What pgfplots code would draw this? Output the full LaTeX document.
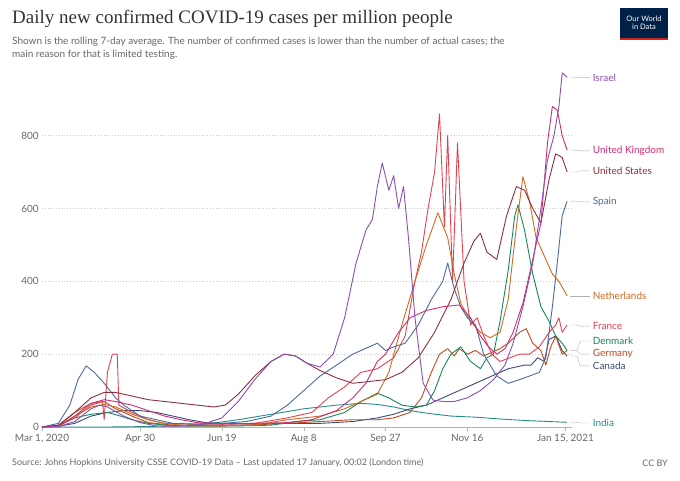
\documentclass[border=0pt]{standalone}
\usepackage{pgfplots}
\pgfplotsset{compat=1.18}
\usepackage{fontspec}
\setmainfont{Lato}
\newfontfamily\titlefont{Liberation Serif}
\definecolor{cIsr}{HTML}{8A4FB0}
\definecolor{cUK}{HTML}{D02C72}
\definecolor{cUS}{HTML}{8B2F3C}
\definecolor{cSpa}{HTML}{4C6A9C}
\definecolor{cNet}{HTML}{CC6A21}
\definecolor{cFra}{HTML}{E2424F}
\definecolor{cDen}{HTML}{18875A}
\definecolor{cGer}{HTML}{C24A1E}
\definecolor{cCan}{HTML}{3B4A75}
\definecolor{cInd}{HTML}{2A8C88}
\definecolor{tgray}{HTML}{666666}
\definecolor{owidblue}{HTML}{002147}
\definecolor{owidred}{HTML}{CE261E}
\begin{document}
\begin{tikzpicture}
\path (0pt,0pt) rectangle (680pt,-480pt);
\node[anchor=north west,inner sep=0,font=\titlefont\fontsize{19}{21}\selectfont,text=black!80] at (12pt,-10pt) {Daily new confirmed COVID-19 cases per million people};
\node[anchor=north west,inner sep=0,font=\fontsize{10}{12.5}\selectfont,text=tgray,align=left] at (12pt,-37pt) {Shown is the rolling 7-day average. The number of confirmed cases is lower than the number of actual cases; the\\main reason for that is limited testing.};
\fill[owidblue] (620pt,-8pt) rectangle (668pt,-40pt);
\fill[owidred] (620pt,-38pt) rectangle (668pt,-40pt);
\node[align=center,text=white,font=\fontsize{7.5}{8}\selectfont,inner sep=0] at (644pt,-23pt) {Our World\\in Data};
\node[anchor=west,inner sep=0,font=\fontsize{9}{11}\selectfont,text=tgray] at (12pt,-463pt) {Source: Johns Hopkins University CSSE COVID-19 Data -- Last updated 17 January, 00:02 (London time)};
\node[anchor=east,inner sep=0,font=\fontsize{9}{11}\selectfont,text=tgray] at (668pt,-463pt) {CC BY};
\foreach \v in {200,400,600,800} {\draw[gray!40,dotted,thick] (42pt,{-427pt+\v*0.364286pt})--(572pt,{-427pt+\v*0.364286pt});}
\draw[gray!60] (42pt,-427pt)--(572pt,-427pt);
\foreach \v in {0,200,400,600,800} {\node[anchor=east,inner sep=1pt,text=tgray,font=\fontsize{10}{12}\selectfont] at (40pt,{-427pt+\v*0.364286pt}) {\v};}
\foreach \d/\l in {0/{Mar 1, 2020},60/{Apr 30},110/{Jun 19},160/{Aug 8},210/{Sep 27},260/{Nov 16},320/{Jan 15, 2021}} {
 \draw[gray!60] ({42pt+\d*1.6358pt},-427pt)--++(0pt,-4pt);
 \node[anchor=north,text=tgray,font=\fontsize{10}{12}\selectfont] at ({42pt+\d*1.6358pt},-431pt) {\l};}
\foreach \c/\y/\n/\ly in {cIsr/960/Israel/959,cUK/760/United Kingdom/758,cUS/700/United States/703,cSpa/620/Spain/618,cNet/360/Netherlands/360,cFra/280/France/277,cDen/210/Denmark/236,cGer/210/Germany/200,cCan/195/Canada/168,cInd/13/India/11} {
 \draw[gray!60,thin] ({42pt+323*1.6358pt},{-427pt+\y*0.364286pt})--({42pt+327*1.6358pt},{-427pt+\y*0.364286pt})--({42pt+329*1.6358pt},{-427pt+\ly*0.364286pt})--({42pt+335*1.6358pt},{-427pt+\ly*0.364286pt});
 \node[anchor=west,inner sep=1pt,text=\c,font=\fontsize{10}{12}\selectfont] at ({42pt+336*1.6358pt},{-427pt+\ly*0.364286pt}) {\n};}
\begin{axis}[at={(42pt,-427pt)},anchor=south west,scale only axis,width=530pt,height=357pt,
 xmin=0,xmax=324,ymin=0,ymax=980,clip=false,
 axis lines=none,
 xtick=\empty,ytick=\empty,
 every axis plot/.append style={line width=0.9pt,line join=round},
]
\addplot[cInd] coordinates {(0,0)(40,0)(60,1)(80,3)(100,8)(120,20)(140,35)(160,50)(180,60)(195,65)(205,62)(215,55)(225,45)(235,38)(250,30)(265,27)(280,22)(295,18)(310,15)(321,13)};
\addplot[cCan] coordinates {(0,0)(10,2)(20,10)(30,30)(40,40)(50,45)(60,45)(70,40)(80,30)(90,20)(100,12)(110,10)(130,8)(150,10)(170,10)(190,15)(205,25)(215,35)(225,50)(235,60)(245,80)(255,100)(265,120)(275,140)(285,160)(295,170)(299,170)(303,190)(307,180)(310,240)(314,250)(318,210)(321,195)};
\addplot[cGer] coordinates {(0,0)(10,3)(20,40)(30,65)(38,70)(45,50)(55,30)(65,12)(80,5)(100,4)(130,6)(150,10)(170,15)(190,20)(205,20)(215,25)(225,40)(232,80)(238,150)(243,200)(248,215)(252,195)(255,215)(260,200)(265,210)(270,195)(275,205)(280,215)(285,230)(292,260)(296,270)(300,230)(305,210)(308,170)(311,220)(314,250)(318,200)(321,210)};
\addplot[cDen] coordinates {(0,0)(10,5)(20,25)(30,35)(40,40)(48,30)(55,20)(65,10)(80,3)(100,2)(120,3)(140,5)(155,15)(170,20)(185,40)(195,70)(205,93)(212,80)(220,60)(228,55)(235,60)(240,100)(245,160)(250,200)(256,220)(262,180)(268,160)(272,190)(276,200)(280,290)(285,430)(289,580)(291,610)(295,540)(300,420)(305,330)(310,290)(314,250)(318,230)(321,210)};
\addplot[cFra] coordinates {(0,0)(10,3)(20,25)(30,60)(37,70)(38,20)(40,150)(43,200)(46,200)(47,60)(55,40)(65,20)(75,10)(90,8)(110,8)(130,10)(150,25)(165,40)(175,80)(185,110)(195,150)(205,160)(215,190)(222,250)(228,400)(232,480)(236,600)(240,700)(243,860)(246,550)(248,800)(251,400)(254,780)(258,400)(262,280)(266,300)(270,250)(275,200)(280,180)(286,190)(292,200)(298,200)(304,220)(310,260)(314,280)(316,300)(318,260)(321,280)};
\addplot[cNet] coordinates {(0,0)(10,2)(20,30)(30,55)(38,62)(45,55)(55,35)(65,20)(75,10)(90,3)(110,3)(130,5)(150,20)(170,30)(185,50)(195,70)(205,90)(212,150)(220,280)(228,400)(235,500)(242,588)(248,520)(252,420)(256,340)(262,290)(268,260)(274,245)(280,260)(285,350)(290,550)(294,687)(298,620)(302,520)(306,480)(312,420)(316,400)(321,360)};
\addplot[cSpa] coordinates {(0,0)(10,10)(17,60)(22,130)(27,168)(32,150)(38,120)(45,80)(50,60)(60,30)(70,20)(80,10)(95,8)(110,10)(125,15)(140,30)(150,60)(160,100)(170,140)(180,170)(190,200)(200,220)(205,230)(210,210)(215,220)(222,230)(230,280)(238,350)(245,400)(248,450)(252,380)(256,330)(260,300)(265,280)(270,200)(278,140)(285,120)(292,130)(298,140)(304,150)(308,190)(312,330)(315,450)(318,580)(321,620)};
\addplot[cUS] coordinates {(0,0)(10,5)(20,40)(30,80)(38,95)(45,95)(55,85)(65,75)(75,70)(85,65)(95,60)(105,55)(112,60)(120,90)(130,140)(140,180)(148,200)(155,195)(162,175)(170,155)(180,135)(190,120)(200,125)(210,130)(220,150)(230,190)(240,260)(250,350)(258,450)(264,510)(268,532)(272,480)(278,460)(284,580)(290,660)(295,650)(300,600)(305,560)(310,680)(314,750)(318,740)(321,700)};
\addplot[cUK] coordinates {(0,0)(10,2)(20,30)(30,65)(38,75)(45,70)(55,60)(65,45)(75,30)(85,20)(95,12)(110,8)(130,10)(150,12)(165,20)(180,45)(190,80)(198,120)(205,180)(210,200)(218,260)(225,300)(235,320)(245,330)(255,335)(262,300)(268,250)(273,220)(278,200)(283,215)(288,260)(294,340)(300,460)(305,560)(309,780)(312,880)(315,870)(318,800)(321,760)};
\addplot[cIsr] coordinates {(0,0)(10,1)(20,15)(30,50)(35,60)(40,55)(50,30)(60,12)(70,3)(80,2)(90,3)(100,10)(110,25)(120,70)(130,130)(140,180)(148,200)(155,195)(162,175)(170,165)(178,200)(185,300)(192,450)(198,540)(202,570)(205,660)(208,725)(212,650)(215,690)(218,600)(221,660)(224,520)(228,300)(233,120)(239,74)(245,70)(252,70)(260,80)(268,100)(276,130)(283,170)(288,230)(294,330)(300,450)(305,600)(309,733)(313,800)(316,880)(318,972)(321,960)};
\end{axis}
\end{tikzpicture}
\end{document}
